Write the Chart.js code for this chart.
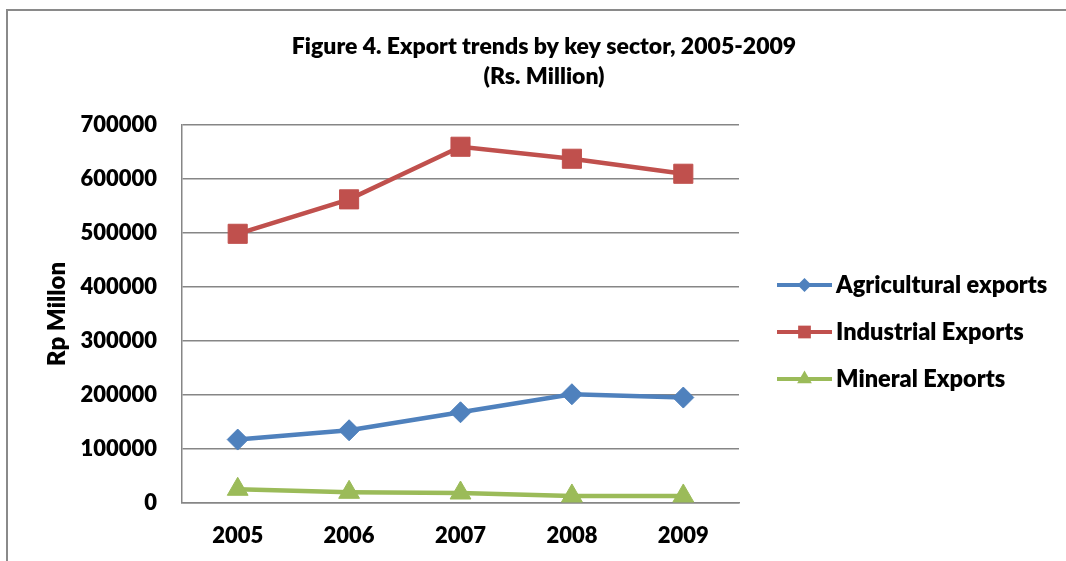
<!DOCTYPE html>
<html>
<head>
<meta charset="utf-8">
<script src="https://cdn.jsdelivr.net/npm/chart.js@4.4.1/dist/chart.umd.min.js"></script>
<style>
    html, body { margin: 0; padding: 0; background: #ffffff; }
    #wrap { position: relative; width: 1066px; height: 561px; }
</style>
</head>
<body>
<div id="wrap"><canvas id="exports" width="1066" height="561"></canvas></div>
<script>
const years = ['2005', '2006', '2007', '2008', '2009'];
const agricultural = [117500, 134700, 168000, 201400, 195300];
const industrial = [498500, 562300, 659700, 637500, 609700];
const mineral = [25400, 19800, 18500, 13000, 13000];
const yMax = 700000;
const yStep = 100000;
const titleLines = ['Figure 4. Export trends by key sector, 2005-2009', '(Rs. Million)'];
const yTitle = 'Rp Millon';

const FONT = 'Lato, "Open Sans", sans-serif';
const WEIGHT = 800;
const GRID = '#868686';

// page frame: grey rule along the top and the left edge
const frame = {
    id: 'frame',
    beforeDraw(chart) {
        const { ctx, width, height } = chart;
        ctx.save();
        ctx.fillStyle = '#ffffff';
        ctx.fillRect(0, 0, width, height);
        ctx.strokeStyle = '#8a8a8a';
        ctx.lineWidth = 2;
        ctx.beginPath();
        ctx.moveTo(width, 10);
        ctx.lineTo(7, 10);
        ctx.lineTo(7, height);
        ctx.stroke();
        ctx.restore();
    },
};

// two-line heading plus the line-and-marker key on the right
const headerAndKey = {
    id: 'headerAndKey',
    afterDraw(chart) {
        const { ctx } = chart;
        ctx.save();
        ctx.fillStyle = '#000000';
        ctx.font = `${WEIGHT} 23px ${FONT}`;
        ctx.textAlign = 'center';
        ctx.textBaseline = 'middle';
        titleLines.forEach((line, i) => ctx.fillText(line, 544, 47 + i * 30));

        chart.data.datasets.forEach((ds, i) => {
            const y = 285 + i * 47;
            ctx.strokeStyle = ds.borderColor;
            ctx.lineWidth = 4;
            ctx.beginPath();
            ctx.moveTo(777, y);
            ctx.lineTo(832, y);
            ctx.stroke();

            ctx.fillStyle = ds.borderColor;
            Chart.helpers.drawPoint(ctx, {
                pointStyle: ds.pointStyle,
                radius: ds.keyRadius,
                rotation: 0,
                borderWidth: 0,
            }, 804.5, y);

            ctx.fillStyle = '#000000';
            ctx.font = `${WEIGHT} 23.5px ${FONT}`;
            ctx.textAlign = 'left';
            ctx.fillText(ds.label, 836, y);
        });
        ctx.restore();
    },
};

const series = (label, data, color, pointStyle, radius, keyRadius) => ({
    label,
    data,
    borderColor: color,
    backgroundColor: color,
    pointBackgroundColor: color,
    pointBorderColor: color,
    pointBorderWidth: 1,
    pointStyle,
    pointRadius: radius,
    pointHoverRadius: radius,
    borderWidth: 4.5,
    tension: 0,
    keyRadius,
});

new Chart(document.getElementById('exports'), {
    type: 'line',
    data: {
        labels: years,
        datasets: [
            series('Agricultural exports', agricultural, '#4F81BD', 'rectRot', 10.5, 7),
            series('Industrial Exports', industrial, '#C0504D', 'rect', 13.5, 9),
            series('Mineral Exports', mineral, '#9BBB59', 'triangle', 12, 8.5),
        ],
    },
    options: {
        responsive: false,
        animation: false,
        layout: {
            padding: { top: 125, right: 327, bottom: 0, left: 0 },
        },
        plugins: {
            legend: { display: false },
            title: { display: false },
            tooltip: { enabled: false },
        },
        scales: {
            x: {
                offset: true,
                grid: { display: false, drawTicks: false },
                border: { display: true, color: GRID, width: 1.5 },
                ticks: {
                    color: '#000000',
                    padding: 20,
                    font: { family: FONT, size: 22, weight: WEIGHT },
                },
                afterFit(scale) {
                    scale.height = 58;
                },
            },
            y: {
                min: 0,
                max: yMax,
                grid: { color: GRID, lineWidth: 1.5, drawTicks: false },
                border: { display: true, color: GRID, width: 1.5 },
                ticks: {
                    stepSize: yStep,
                    color: '#000000',
                    padding: 25,
                    font: { family: FONT, size: 22, weight: WEIGHT },
                    callback: (v) => String(v),
                },
                title: {
                    display: true,
                    text: yTitle,
                    color: '#000000',
                    padding: { top: 43, bottom: 0 },
                    font: { family: FONT, size: 24, weight: WEIGHT },
                },
                afterFit(scale) {
                    scale.width = 182;
                },
            },
        },
    },
    plugins: [frame, headerAndKey],
});
</script>
</body>
</html>
